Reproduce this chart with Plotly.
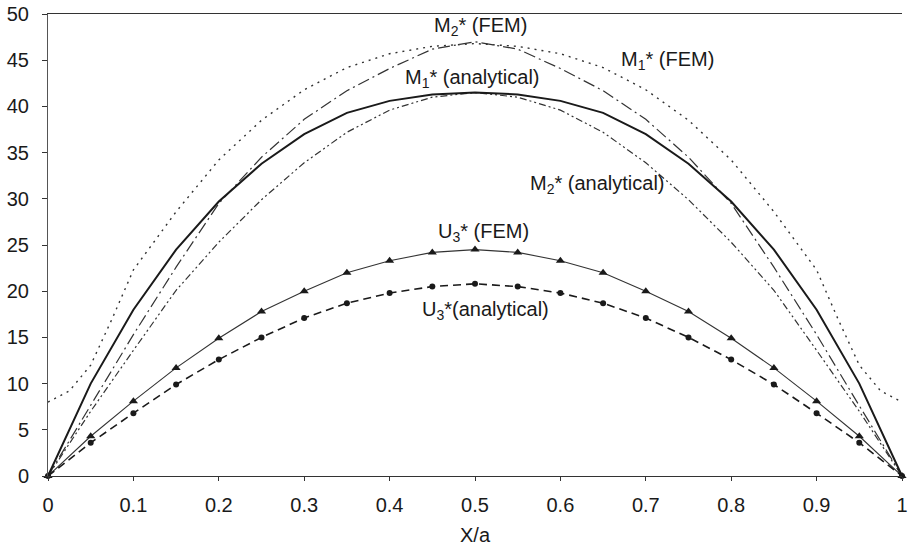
import plotly.graph_objects as go

# ---- data ----
x = [0, 0.05, 0.1, 0.15, 0.2, 0.25, 0.3, 0.35, 0.4, 0.45, 0.5,
     0.55, 0.6, 0.65, 0.7, 0.75, 0.8, 0.85, 0.9, 0.95, 1]

u3_fem = [0, 4.3, 8.1, 11.7, 14.9, 17.8, 20.0, 22.0, 23.3, 24.2, 24.5,
          24.2, 23.3, 22.0, 20.0, 17.8, 14.9, 11.7, 8.1, 4.3, 0]
u3_analytical = [0, 3.6, 6.8, 9.9, 12.6, 15.0, 17.1, 18.7, 19.8, 20.5, 20.8,
                 20.5, 19.8, 18.7, 17.1, 15.0, 12.6, 9.9, 6.8, 3.6, 0]
m1_analytical = [0, 10.0, 18.0, 24.5, 29.7, 33.8, 37.0, 39.3, 40.6, 41.3, 41.5,
                 41.3, 40.6, 39.3, 37.0, 33.8, 29.7, 24.5, 18.0, 10.0, 0]
m2_analytical = [0, 7.0, 13.6, 20.1, 25.3, 29.9, 33.9, 37.2, 39.6, 41.0, 41.5,
                 41.0, 39.6, 37.2, 33.9, 29.9, 25.3, 20.1, 13.6, 7.0, 0]
m2_fem = [0, 7.6, 15.3, 22.6, 29.5, 34.5, 38.6, 41.7, 44.1, 46.2, 47.0,
          46.2, 44.1, 41.7, 38.6, 34.5, 29.5, 22.6, 15.3, 7.6, 0]

x_m1_fem = [0, 0.025, 0.05, 0.075, 0.1, 0.15, 0.2, 0.25, 0.3, 0.35, 0.4, 0.45, 0.5,
            0.55, 0.6, 0.65, 0.7, 0.75, 0.8, 0.85, 0.9, 0.925, 0.95, 0.975, 1]
m1_fem = [8.0, 9.2, 12.0, 17.0, 22.3, 28.6, 34.2, 38.5, 41.8, 44.2, 45.7, 46.5, 46.8,
          46.5, 45.7, 44.2, 41.8, 38.5, 34.2, 28.6, 22.3, 17.0, 12.0, 9.2, 8.0]

x_ticks = [0, 0.1, 0.2, 0.3, 0.4, 0.5, 0.6, 0.7, 0.8, 0.9, 1]
x_tick_labels = ["0", "0.1", "0.2", "0.3", "0.4", "0.5", "0.6", "0.7", "0.8", "0.9", "1"]
y_ticks = [0, 5, 10, 15, 20, 25, 30, 35, 40, 45, 50]

labels = ["M<sub>2</sub>* (FEM)", "M<sub>1</sub>* (FEM)", "M<sub>1</sub>* (analytical)",
          "M<sub>2</sub>* (analytical)", "U<sub>3</sub>* (FEM)", "U<sub>3</sub>*(analytical)"]
label_x = [0.506, 0.725, 0.497, 0.643, 0.51, 0.512]
label_y = [48.6, 45.0, 43.0, 31.6, 26.3, 17.9]

FONT = "Liberation Sans, Arial, sans-serif"
INK = "#1a1a1a"

fig = go.Figure()

fig.add_trace(go.Scatter(x=x_m1_fem, y=m1_fem, mode="lines", cliponaxis=False,
                         line=dict(color="#333", width=1.4, dash="2px,5px")))
fig.add_trace(go.Scatter(x=x, y=m2_fem, mode="lines", cliponaxis=False,
                         line=dict(color="#333", width=1.2, dash="12px,4px,2px,4px")))
fig.add_trace(go.Scatter(x=x, y=m2_analytical, mode="lines", cliponaxis=False,
                         line=dict(color="#333", width=1.2, dash="7px,3px,2px,3px,2px,3px")))
fig.add_trace(go.Scatter(x=x, y=m1_analytical, mode="lines", cliponaxis=False,
                         line=dict(color=INK, width=2)))
fig.add_trace(go.Scatter(x=x, y=u3_fem, mode="lines+markers", cliponaxis=False,
                         line=dict(color="#333", width=1.1),
                         marker=dict(symbol="triangle-up", size=8, color=INK)))
fig.add_trace(go.Scatter(x=x, y=u3_analytical, mode="lines+markers", cliponaxis=False,
                         line=dict(color=INK, width=1.6, dash="8px,5px"),
                         marker=dict(symbol="circle", size=6, color=INK)))

for t, lx, ly in zip(labels, label_x, label_y):
    fig.add_annotation(x=lx, y=ly, text=t, showarrow=False,
                       font=dict(family=FONT, size=20, color=INK))

fig.update_layout(
    width=911, height=555,
    margin=dict(l=48, r=3, t=13, b=79),
    paper_bgcolor="white", plot_bgcolor="white",
    showlegend=False,
    font=dict(family=FONT, size=20, color=INK),
)
fig.update_xaxes(range=[0, 1], tickvals=x_ticks, ticktext=x_tick_labels,
                 showgrid=False, zeroline=False, showline=True, mirror=True,
                 linecolor="#333", linewidth=1, ticks="outside", ticklen=4,
                 tickcolor="#333", ticklabelstandoff=7, ticklabeloverflow="allow",
                 title=dict(text="X/a", standoff=12, font=dict(size=20)))
fig.update_yaxes(range=[0, 50], tickvals=y_ticks, showgrid=False, zeroline=False,
                 showline=True, linecolor="#555", linewidth=1, ticks="outside",
                 ticklen=5, tickcolor="#333", ticklabelstandoff=9)

fig.write_html("out.html")
